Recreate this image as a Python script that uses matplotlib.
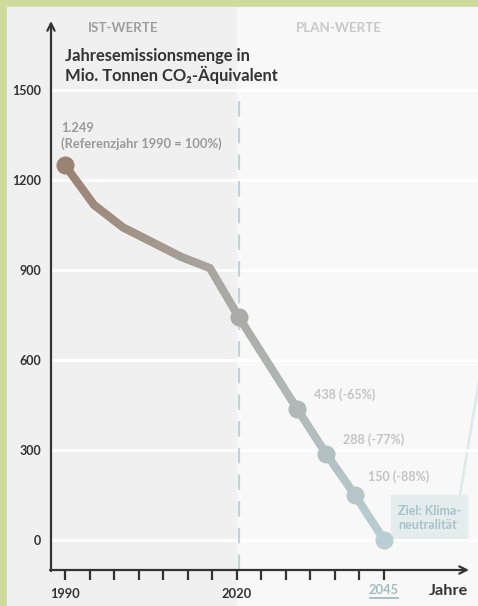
import numpy as np
import matplotlib
matplotlib.use("Agg")
import matplotlib.pyplot as plt
from matplotlib.collections import LineCollection
from matplotlib.colors import to_rgb

plt.rcParams['font.family'] = ['Lato', 'DejaVu Sans']

# data
years = [1990, 1995, 2000, 2005, 2010, 2015, 2020, 2030, 2035, 2040, 2045]
values = [1249, 1117, 1042, 993, 944, 906, 742, 438, 288, 150, 0]
marker_years = [1990, 2020, 2030, 2035, 2040, 2045]
plan_labels = ["438 (-65%)", "288 (-77%)", "150 (-88%)"]
plan_years = [2030, 2035, 2040]
yticks = [0, 300, 600, 900, 1200, 1500]
xlabels = {1990: "1990", 2020: "2020"}

W, H = 478, 606
fig = plt.figure(figsize=(W / 100, H / 100), dpi=100, facecolor="#cddc9a")

def fx(px):
    return px / W

def fy(py):
    return 1 - py / H

# panel backgrounds
fig.patches.append(plt.Rectangle((fx(7), 0), fx(237) - fx(7), fy(7), transform=fig.transFigure,
                                 color="#f0f0f0", zorder=-2))
fig.patches.append(plt.Rectangle((fx(237), 0), 1 - fx(237), fy(7), transform=fig.transFigure,
                                 color="#f8f8f8", zorder=-2))
# goal box
fig.patches.append(plt.Rectangle((fx(391), fy(541)), fx(467) - fx(391), fy(495) - fy(541),
                                 transform=fig.transFigure, color="#e5ecee", zorder=-1))
fig.lines.append(plt.Line2D([fx(460), fx(480)], [fy(495), fy(375)], transform=fig.transFigure,
                            color="#dfe9eb", lw=1.8, zorder=-1))

# axes: 1990 -> px 65, 5.8 px/year ; value 0 -> py 540, 0.3 px/unit
x0, x1 = 51, 478
y0, y1 = 570, 22
ax = fig.add_axes([fx(x0), fy(y0), fx(x1) - fx(x0), fy(y1) - fy(y0)])
ax.set_zorder(1)
ax.set_facecolor("none")
ax.set_xlim(1990 + (x0 - 65) / 5.8, 1990 + (x1 - 65) / 5.8)
ax.set_ylim((540 - y0) / 0.3, (540 - y1) / 0.3)
for s in ax.spines.values():
    s.set_visible(False)

# gridlines
for v in yticks:
    ax.axhline(v, xmin=0.005, xmax=1, color="white", lw=2.2, zorder=1)

# dashed divider
ax.vlines(2020, ax.get_ylim()[0], 1482, color="#c5d1d5", lw=1.6, linestyles=(0, (7, 5)), zorder=2)

# gradient line
c_start = np.array(to_rgb("#9a8373"))
c_end = np.array(to_rgb("#b9cdd2"))
def col(year):
    t = (year - years[0]) / (years[-1] - years[0])
    return c_start * (1 - t) + c_end * t

segs, cols = [], []
for i in range(len(years) - 1):
    xs = np.linspace(years[i], years[i + 1], 12)
    ys = np.linspace(values[i], values[i + 1], 12)
    for j in range(len(xs) - 1):
        segs.append([(xs[j], ys[j]), (xs[j + 1], ys[j + 1])])
        cols.append(col((xs[j] + xs[j + 1]) / 2))
lc = LineCollection(segs, colors=cols, linewidths=5.8, capstyle="round", joinstyle="round", zorder=3)
ax.add_collection(lc)
for yr in marker_years:
    ax.plot(yr, values[years.index(yr)], "o", ms=13, color=col(yr), mec="none", zorder=4)

# ticks
ax.set_yticks(yticks)
ax.set_yticklabels([str(v) for v in yticks])
ax.tick_params(axis="y", length=0, pad=7, labelsize=9, labelcolor="#333333")
for t in ax.get_yticklabels():
    t.set_fontweight("bold")
ticks = np.linspace(1990, 2045, 14)
ax.set_xticks(ticks)
ax.set_xticklabels([xlabels.get(int(round(t)), "") for t in ticks])
ax.tick_params(axis="x", length=7, width=1.6, color="#333333", pad=6, labelsize=9.3,
               labelcolor="#333333")
for t in ax.get_xticklabels():
    t.set_fontweight("bold")
fig.text(fx(384), fy(590), "2045", ha="center", va="center", fontsize=9.3,
         fontweight="bold", color="#9fbcc2")
fig.lines.append(plt.Line2D([fx(370), fx(398)], [fy(598), fy(598)], transform=fig.transFigure,
                            color="#9fbcc2", lw=1.3))

# axis arrows
arrow = dict(arrowstyle="->", lw=1.6, color="#333333", mutation_scale=13, shrinkA=0, shrinkB=0)
fig.add_artist(plt.Annotation("", xy=(51, H - 21), xytext=(51, H - 571), xycoords="figure pixels",
                              textcoords="figure pixels", arrowprops=arrow))
fig.add_artist(plt.Annotation("", xy=(469, H - 570), xytext=(50, H - 570), xycoords="figure pixels",
                              textcoords="figure pixels", arrowprops=arrow))

# texts
fig.text(fx(429), fy(591), "Jahre", fontsize=11.7, fontweight="bold", color="#333333", va="center")
fig.text(fx(88), fy(28), "IST-WERTE", fontsize=9.6, fontweight="bold", color="#9e9e9e", va="center")
fig.text(fx(296), fy(28), "PLAN-WERTE", fontsize=9.6, fontweight="bold", color="#c8c8c8", va="center")
fig.text(fx(65), fy(66), "Jahresemissionsmenge in\nMio. Tonnen CO₂-Äquivalent", fontsize=11.9,
         fontweight="bold", color="#333333", va="center", linespacing=1.1)
fig.text(fx(61), fy(136), "1.249\n(Referenzjahr 1990 = 100%)", fontsize=9.3, fontweight="bold",
         color="#9a9a9a", va="center", linespacing=1.3)

offsets = [(12, 10), (12, 10), (9, 13)]
for lab, yr, off in zip(plan_labels, plan_years, offsets):
    ax.annotate(lab, (yr, values[years.index(yr)]), xytext=off, textcoords="offset points",
                fontsize=9, fontweight="bold", color="#c3c3c3", va="center", ha="left")

fig.text(fx(398), fy(518), "Ziel: Klima-\nneutralität", fontsize=9, fontweight="bold",
         color="#a8c3c8", va="center", linespacing=1.15)

fig.savefig("out.png", dpi=100, facecolor=fig.get_facecolor())
